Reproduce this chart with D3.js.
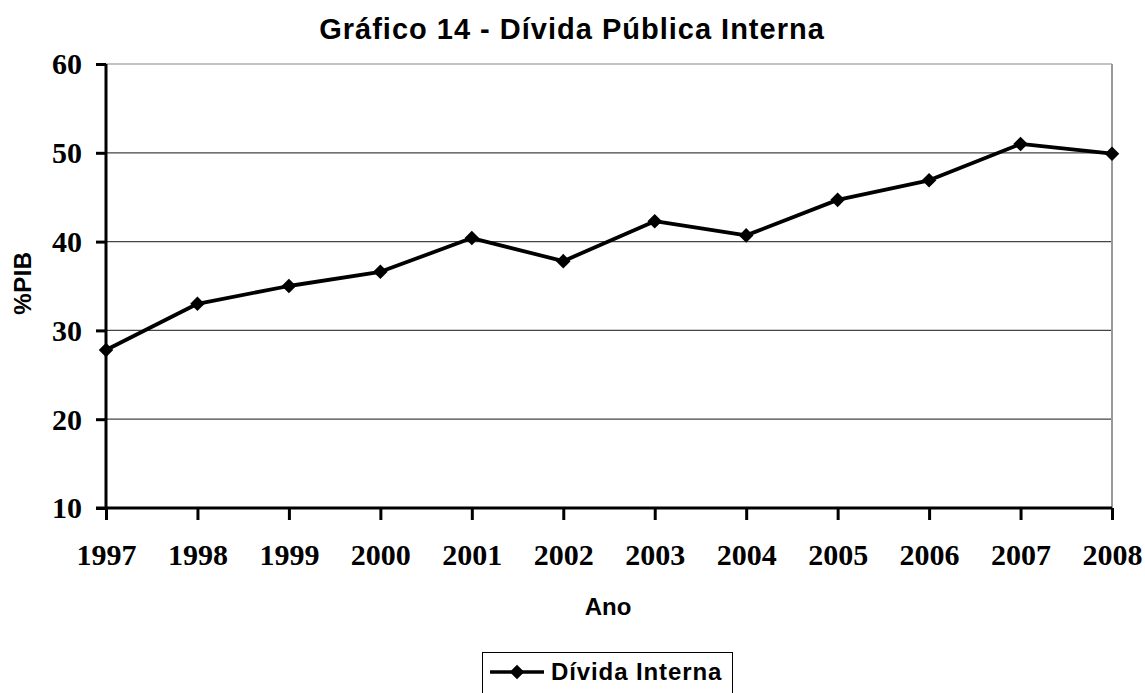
<!DOCTYPE html>
<html>
<head>
<meta charset="utf-8">
<script src="https://cdn.jsdelivr.net/npm/d3@7/dist/d3.min.js"></script>
<style>
  html, body { margin: 0; padding: 0; background: #fff; }
  svg { display: block; }
</style>
</head>
<body>
<svg id="chart" width="1145" height="693"></svg>
<script>
// Dívida pública interna, % do PIB
const years = ["1997","1998","1999","2000","2001","2002","2003","2004","2005","2006","2007","2008"];
const divida = [27.8, 33.0, 35.0, 36.6, 40.4, 37.8, 42.3, 40.7, 44.7, 46.9, 51.0, 49.9];
const yTicks = [10, 20, 30, 40, 50, 60];

const titleText = "Gráfico 14 - Dívida Pública Interna";
const xTitle = "Ano";
const yTitle = "%PIB";
const seriesName = "Dívida Interna";

const svg = d3.select("#chart");
const plot = { left: 106, right: 1112, top: 64, bottom: 508 };

const x = d3.scalePoint().domain(years).range([plot.left, plot.right]);
const y = d3.scaleLinear().domain([10, 60]).range([plot.bottom, plot.top]);

const sans = "'Liberation Sans', Arial, sans-serif";
const serif = "'Liberation Serif', 'Times New Roman', serif";

// gridlines
svg.append("g")
  .selectAll("line")
  .data(yTicks.filter(d => d > 10))
  .join("line")
  .attr("x1", plot.left).attr("x2", plot.right)
  .attr("y1", d => y(d)).attr("y2", d => y(d))
  .attr("stroke", d => d === 60 ? "#888" : "#444")
  .attr("stroke-width", 1.2);

// right border of plot area
svg.append("line")
  .attr("x1", plot.right).attr("x2", plot.right)
  .attr("y1", plot.top).attr("y2", plot.bottom)
  .attr("stroke", "#999").attr("stroke-width", 2);

// y axis
const yAxis = svg.append("g")
  .attr("transform", `translate(${plot.left},0)`)
  .call(d3.axisLeft(y).tickValues(yTicks).tickSize(10).tickPadding(14).tickFormat(d3.format("d")));
yAxis.select(".domain").attr("stroke", "#000").attr("stroke-width", 3)
  .attr("d", `M0,${plot.top}V${plot.bottom}`);
yAxis.selectAll(".tick line").attr("stroke", "#000").attr("stroke-width", 3);
yAxis.selectAll(".tick text")
  .attr("font-family", serif).attr("font-weight", "bold").attr("font-size", 30)
  .attr("fill", "#000").attr("dy", "0.33em");

// x axis
const xAxis = svg.append("g")
  .attr("transform", `translate(0,${plot.bottom})`)
  .call(d3.axisBottom(x).tickSize(12).tickPadding(24));
xAxis.select(".domain").attr("stroke", "#000").attr("stroke-width", 3)
  .attr("d", `M${plot.left - 10},0H${plot.right}`);
xAxis.selectAll(".tick line").attr("stroke", "#000").attr("stroke-width", 3);
xAxis.selectAll(".tick text")
  .attr("font-family", serif).attr("font-weight", "bold").attr("font-size", 30)
  .attr("fill", "#000").attr("dy", "0.71em");

// series line
const line = d3.line().x((d, i) => x(years[i])).y(d => y(d));
svg.append("path")
  .datum(divida)
  .attr("d", line)
  .attr("fill", "none")
  .attr("stroke", "#000")
  .attr("stroke-width", 3.8)
  .attr("stroke-linejoin", "round");

// diamond markers
const diamond = d3.symbol().type(d3.symbolDiamond2).size(135);
svg.append("g")
  .selectAll("path")
  .data(divida)
  .join("path")
  .attr("d", diamond)
  .attr("transform", (d, i) => `translate(${x(years[i])},${y(d)})`)
  .attr("fill", "#000");

// titles
svg.append("text")
  .attr("x", 572).attr("y", 39)
  .attr("text-anchor", "middle")
  .attr("font-family", sans).attr("font-weight", "bold").attr("font-size", 29)
  .attr("letter-spacing", 1)
  .text(titleText);

svg.append("text")
  .attr("x", 608).attr("y", 615)
  .attr("text-anchor", "middle")
  .attr("font-family", sans).attr("font-weight", "bold").attr("font-size", 24)
  .text(xTitle);

svg.append("text")
  .attr("transform", "translate(31,283) rotate(-90)")
  .attr("text-anchor", "middle")
  .attr("font-family", sans).attr("font-weight", "bold").attr("font-size", 24)
  .attr("letter-spacing", 0.5)
  .text(yTitle);

// legend
const lg = svg.append("g");
lg.append("rect")
  .attr("x", 482.5).attr("y", 652.5)
  .attr("width", 250).attr("height", 60)
  .attr("fill", "#fff").attr("stroke", "#000").attr("stroke-width", 1);
lg.append("line")
  .attr("x1", 490).attr("x2", 544)
  .attr("y1", 672).attr("y2", 672)
  .attr("stroke", "#000").attr("stroke-width", 3.5);
lg.append("path")
  .attr("d", diamond)
  .attr("transform", "translate(517,672)")
  .attr("fill", "#000");
lg.append("text")
  .attr("x", 551).attr("y", 680)
  .attr("font-family", sans).attr("font-weight", "bold").attr("font-size", 24)
  .attr("letter-spacing", 0.9)
  .text(seriesName);
</script>
</body>
</html>
